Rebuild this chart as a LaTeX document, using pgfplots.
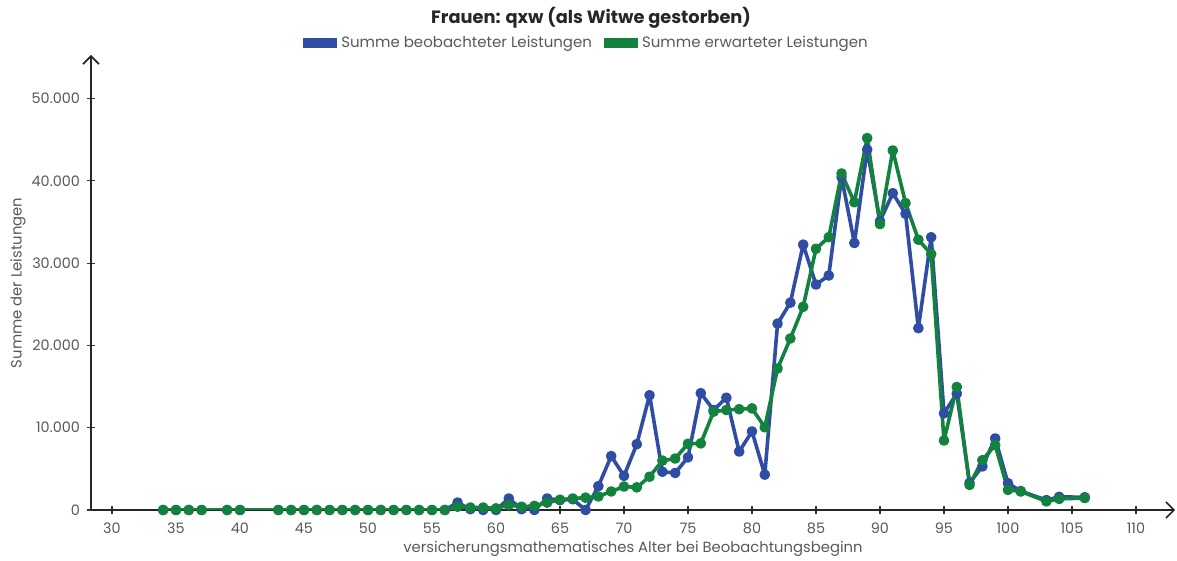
\documentclass[border=0pt]{standalone}
\usepackage{pgfplots}
\pgfplotsset{compat=1.18}
\usetikzlibrary{arrows.meta}
\usepackage{fontspec}
\setmainfont{Poppins}
\definecolor{obs}{RGB}{47,77,163}
\definecolor{expc}{RGB}{19,130,62}
\definecolor{lbl}{RGB}{89,89,89}
\begin{document}
\begin{tikzpicture}
\begin{axis}[
  scale only axis, width=542pt, height=227.5pt,
  xmin=28.36, xmax=113.05, ymin=0, ymax=55300,
  axis lines=left,
  axis line style={line width=0.8pt, black!85, -{Straight Barb[length=4pt,width=8pt]}},
  xtick={30,35,...,110}, ytick={0,10000,...,50000},
  tick align=center, major tick length=4pt,
  tick style={black!80, line width=0.6pt},
  scaled y ticks=false,
  /pgf/number format/assume math mode=true,
  /pgf/number format/1000 sep={.},
  ticklabel style={font=\fontsize{7.2}{9}\selectfont, text=lbl},
  xticklabel style={yshift=-1pt},
  xlabel={versicherungsmathematisches Alter bei Beobachtungsbeginn},
  ylabel={Summe der Leistungen},
  label style={font=\fontsize{7.4}{9}\selectfont, text=lbl},
  xlabel style={at={(axis description cs:0.5,-0.0857)}, anchor=center},
  ylabel style={at={(axis description cs:-0.0673,0.499)}, anchor=center},
  every axis title shift=0pt,
  title={Frauen: qxw (als Witwe gestorben)},
  title style={font=\fontsize{8.9}{10}\selectfont\bfseries, text=black!85, at={(axis description cs:0.4613,1.081)}, anchor=center},
  legend columns=2,
  legend style={at={(axis description cs:0.458,1.026)}, anchor=center, draw=none, fill=none,
    font=\fontsize{7.5}{9}\selectfont, text=lbl,
    /tikz/every even column/.append style={column sep=4pt}},
  legend image code/.code={\fill[#1, draw=none] (0pt,-2.5pt) rectangle (17pt,2.5pt);},
  every axis plot/.append style={line width=1.8pt, line join=round, mark=*, mark size=1.75pt, mark options={solid}},
]
\addplot[color=obs] coordinates {
(34,0) (35,0) (36,0) (37,0) (39,0) (40,0) (43,0) (44,0) (45,0) (46,0) (47,0) (48,0) (49,0) (50,0) (51,0) (52,0) (53,0) (54,0) (55,0) (56,0)
(57,900) (58,100) (59,0) (60,0) (61,1400) (62,100) (63,0) (64,1400) (65,1200) (66,1300) (67,0) (68,2900) (69,6550) (70,4150)
(71,8000) (72,13950) (73,4650) (74,4500) (75,6400) (76,14200) (77,12150) (78,13650) (79,7100) (80,9550)
(81,4300) (82,22650) (83,25200) (84,32250) (85,27400) (86,28500) (87,40450) (88,32450) (89,43800) (90,35100)
(91,38500) (92,36000) (93,22100) (94,33150) (95,11750) (96,14150) (97,3300) (98,5300) (99,8700) (100,3250)
(101,2300) (103,1200) (104,1600) (106,1550)
};
\addlegendentry{Summe beobachteter Leistungen}
\addplot[color=expc] coordinates {
(34,0) (35,0) (36,0) (37,0) (39,0) (40,0) (43,0) (44,0) (45,0) (46,0) (47,0) (48,0) (49,0) (50,0) (51,0) (52,0) (53,0) (54,0) (55,0) (56,0)
(57,400) (58,300) (59,300) (60,200) (61,600) (62,400) (63,500) (64,900) (65,1250) (66,1400) (67,1500) (68,1650) (69,2250) (70,2850)
(71,2750) (72,4050) (73,6000) (74,6250) (75,8050) (76,8100) (77,11950) (78,12150) (79,12250) (80,12350)
(81,10050) (82,17200) (83,20850) (84,24700) (85,31750) (86,33150) (87,40900) (88,37400) (89,45200) (90,34750)
(91,43700) (92,37300) (93,32850) (94,31100) (95,8450) (96,14950) (97,3050) (98,6050) (99,7900) (100,2450)
(101,2250) (103,1050) (104,1350) (106,1450)
};
\addlegendentry{Summe erwarteter Leistungen}
\end{axis}
\pgfresetboundingbox
\path[use as bounding box] (-45.5pt,-25.5pt) rectangle (543pt,255pt);
\end{tikzpicture}
\end{document}
